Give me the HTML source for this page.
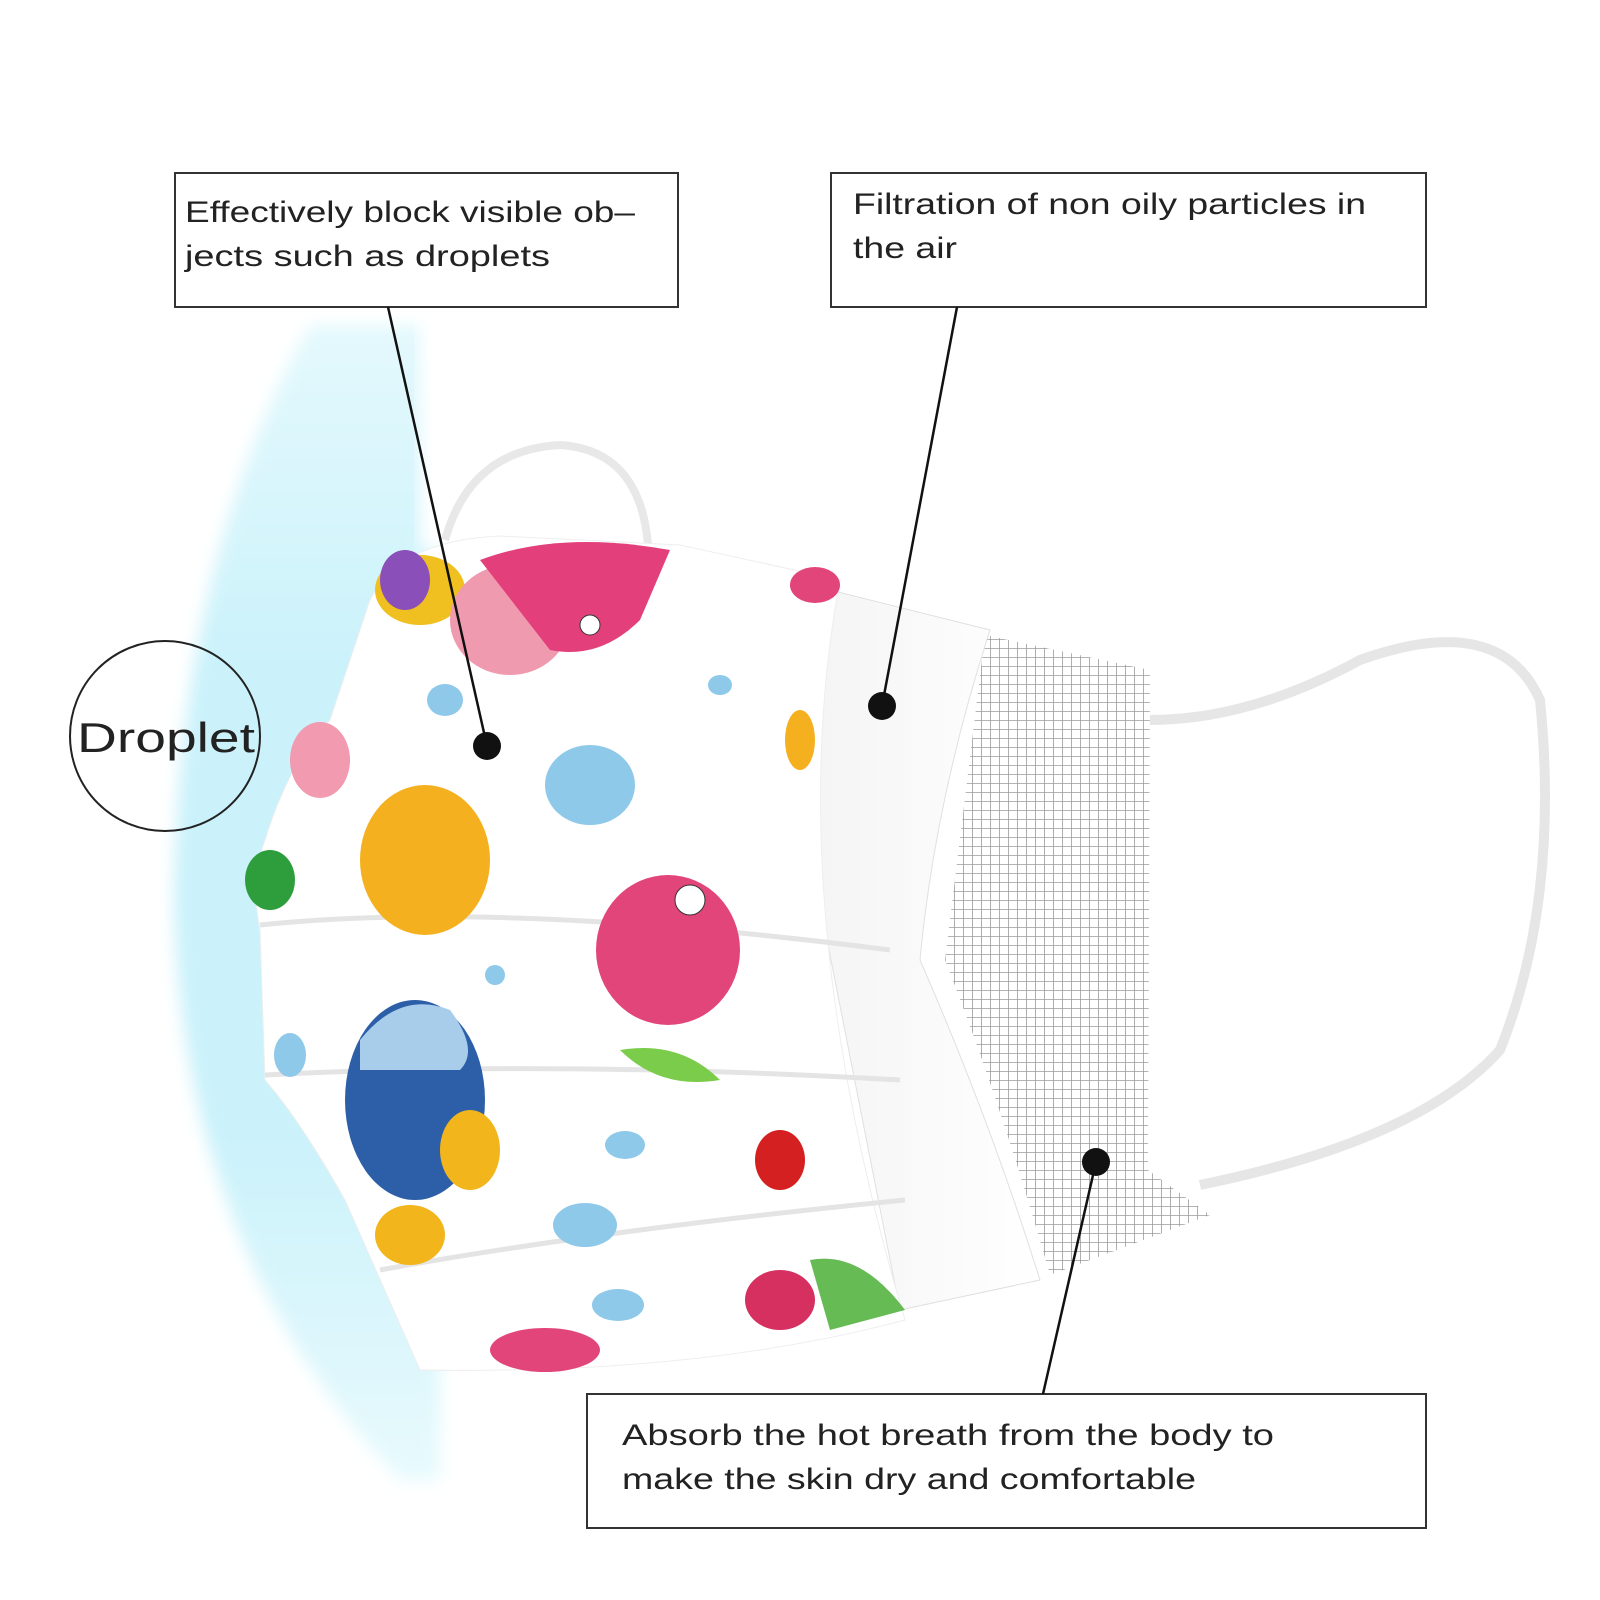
<!DOCTYPE html>
<html><head><meta charset="utf-8"><style>
html,body{margin:0;padding:0;background:#fff;}
svg{display:block}
text{font-family:"Liberation Sans",sans-serif;fill:#222}
</style></head><body>
<svg width="1600" height="1600" viewBox="0 0 1600 1600" xmlns="http://www.w3.org/2000/svg">
<defs>
<linearGradient id="glow" x1="0" y1="0" x2="0" y2="1">
<stop offset="0" stop-color="#e4f9fd"/>
<stop offset="0.3" stop-color="#cbf2fb"/>
<stop offset="0.7" stop-color="#cbf2fb"/>
<stop offset="1" stop-color="#e8fafd"/>
</linearGradient>
<filter id="blur"><feGaussianBlur stdDeviation="8"/></filter>
<pattern id="mesh" width="9" height="9" patternUnits="userSpaceOnUse">
<rect width="9" height="9" fill="#fff"/>
<path d="M0 0H9M0 0V9" stroke="#9a9a9a" stroke-width="1.6"/>
</pattern>
<linearGradient id="inner" x1="0" x2="1"><stop offset="0" stop-color="#f2f2f2"/><stop offset="1" stop-color="#fff"/></linearGradient>
</defs>
<rect width="1600" height="1600" fill="#fff"/>
<!-- blue glow -->
<path d="M310 325 Q178 560 174 900 Q180 1250 400 1480 L440 1480 L440 325 Z" fill="url(#glow)" filter="url(#blur)"/>
<rect x="420" y="300" width="60" height="250" fill="#fff" filter="url(#blur)"/>
<!-- top loop -->
<path d="M445 540 Q470 450 560 445 Q640 450 648 545" fill="none" stroke="#e8e8e8" stroke-width="8"/>
<!-- right loop -->
<path d="M1150 720 Q1250 720 1360 660 Q1500 610 1540 700 Q1560 900 1500 1050 Q1420 1140 1200 1185" fill="none" stroke="#e6e6e6" stroke-width="10"/>
<!-- mesh layer -->
<path d="M985 635 L1150 670 L1148 1170 L1210 1215 L1050 1275 Q1000 1100 945 960 Z" fill="url(#mesh)"/>
<!-- inner white layer -->
<path d="M830 590 L990 630 Q935 800 920 960 Q990 1120 1040 1280 L900 1310 L760 600 Z" fill="url(#inner)" stroke="#e0e0e0"/>
<!-- printed front -->
<path d="M370 600 Q400 540 500 536 L680 545 L840 580 Q780 900 905 1320 Q700 1375 420 1370 Q380 1280 345 1200 Q300 1120 265 1080 L260 930 Q250 880 265 840 Q290 760 330 720 Z" fill="#fff" stroke="#eee"/>
<!-- pleat shadows -->
<path d="M260 925 Q500 900 890 950" stroke="#e4e4e4" stroke-width="5" fill="none"/>
<path d="M265 1075 Q550 1060 900 1080" stroke="#e4e4e4" stroke-width="5" fill="none"/>
<path d="M380 1270 Q600 1230 905 1200" stroke="#e4e4e4" stroke-width="5" fill="none"/>
<!-- prints -->
<ellipse cx="420" cy="590" rx="45" ry="35" fill="#f0c020"/>
<ellipse cx="405" cy="580" rx="25" ry="30" fill="#8a4fb8"/>
<ellipse cx="510" cy="620" rx="60" ry="55" fill="#f09ab0"/>
<path d="M480 560 Q560 530 670 550 L640 620 Q600 660 550 650 Z" fill="#e33f7a"/>
<circle cx="590" cy="625" r="10" fill="#fff" stroke="#333"/>
<ellipse cx="320" cy="760" rx="30" ry="38" fill="#f29ab0"/>
<ellipse cx="425" cy="860" rx="65" ry="75" fill="#f5b01f"/>
<ellipse cx="270" cy="880" rx="25" ry="30" fill="#2e9e3c"/>
<ellipse cx="668" cy="950" rx="72" ry="75" fill="#e2457a"/>
<circle cx="690" cy="900" r="15" fill="#fff" stroke="#333"/>
<path d="M620 1050 Q680 1040 720 1080 Q660 1090 620 1050Z" fill="#7bcc4a"/>
<ellipse cx="415" cy="1100" rx="70" ry="100" fill="#2d5fa8"/>
<path d="M360 1040 Q400 990 450 1010 Q480 1050 460 1070 L360 1070Z" fill="#a8cdeb"/>
<ellipse cx="470" cy="1150" rx="30" ry="40" fill="#f2b51c"/>
<ellipse cx="410" cy="1235" rx="35" ry="30" fill="#f2b51c"/>
<ellipse cx="590" cy="785" rx="45" ry="40" fill="#8ec9ea"/>
<ellipse cx="445" cy="700" rx="18" ry="16" fill="#8ec9ea"/>
<ellipse cx="720" cy="685" rx="12" ry="10" fill="#8ec9ea"/>
<ellipse cx="290" cy="1055" rx="16" ry="22" fill="#8ec9ea"/>
<ellipse cx="495" cy="975" rx="10" ry="10" fill="#8ec9ea"/>
<ellipse cx="625" cy="1145" rx="20" ry="14" fill="#8ec9ea"/>
<ellipse cx="585" cy="1225" rx="32" ry="22" fill="#8ec9ea"/>
<ellipse cx="618" cy="1305" rx="26" ry="16" fill="#8ec9ea"/>
<ellipse cx="545" cy="1350" rx="55" ry="22" fill="#e2457a"/>
<ellipse cx="780" cy="1160" rx="25" ry="30" fill="#d42020"/>
<ellipse cx="780" cy="1300" rx="35" ry="30" fill="#d53060"/>
<path d="M810 1260 Q860 1250 905 1310 L830 1330Z" fill="#66bb55"/>
<ellipse cx="800" cy="740" rx="15" ry="30" fill="#f5b01f"/>
<ellipse cx="815" cy="585" rx="25" ry="18" fill="#e2457a"/>
<!-- droplet circle -->
<circle cx="165" cy="736" r="95" fill="none" stroke="#222" stroke-width="2"/>
<text x="77" y="752" font-size="42" textLength="178" lengthAdjust="spacingAndGlyphs">Droplet</text>
<!-- boxes -->
<rect x="175" y="173" width="503" height="134" fill="#fff" stroke="#333" stroke-width="2"/>
<text x="185" y="222" font-size="30" textLength="450" lengthAdjust="spacingAndGlyphs">Effectively block visible ob–</text>
<text x="185" y="266" font-size="30" textLength="365" lengthAdjust="spacingAndGlyphs">jects such as droplets</text>
<rect x="831" y="173" width="595" height="134" fill="#fff" stroke="#333" stroke-width="2"/>
<text x="853" y="214" font-size="30" textLength="513" lengthAdjust="spacingAndGlyphs">Filtration of non oily particles in</text>
<text x="853" y="258" font-size="30" textLength="104" lengthAdjust="spacingAndGlyphs">the air</text>
<rect x="587" y="1394" width="839" height="134" fill="#fff" stroke="#333" stroke-width="2"/>
<text x="622" y="1445" font-size="30" textLength="652" lengthAdjust="spacingAndGlyphs">Absorb the hot breath from the body to</text>
<text x="622" y="1489" font-size="30" textLength="574" lengthAdjust="spacingAndGlyphs">make the skin dry and comfortable</text>
<!-- leaders -->
<line x1="388" y1="307" x2="487" y2="746" stroke="#111" stroke-width="2.5"/>
<circle cx="487" cy="746" r="14" fill="#111"/>
<line x1="957" y1="307" x2="882" y2="706" stroke="#111" stroke-width="2.5"/>
<circle cx="882" cy="706" r="14" fill="#111"/>
<line x1="1096" y1="1162" x2="1043" y2="1394" stroke="#111" stroke-width="2.5"/>
<circle cx="1096" cy="1162" r="14" fill="#111"/>
</svg>
</body></html>
